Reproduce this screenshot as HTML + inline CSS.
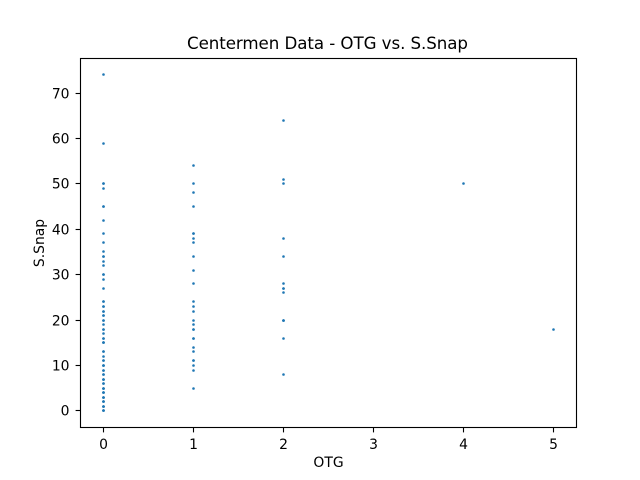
<!DOCTYPE html>
<html>
<head>
<meta charset="utf-8">
<title>Centermen Data - OTG vs. S.Snap</title>
<style>
html,body{margin:0;padding:0;background:#fff;width:640px;height:480px;overflow:hidden}
svg{display:block}
text{font-family:"DejaVu Sans","Liberation Sans",sans-serif;fill:#000}
</style>
</head>
<body>
<svg id="chart" xmlns="http://www.w3.org/2000/svg" width="640" height="480" viewBox="0 0 640 480">
  <rect x="0" y="0" width="640" height="480" fill="#fff"/>
  <text x="187" y="49" font-size="16.67" textLength="281" lengthAdjust="spacing">Centermen Data - OTG vs. S.Snap</text>
  <g id="points"></g>
  <g id="ticks"></g>
  <rect x="80.5" y="58.5" width="496" height="369" fill="none" stroke="#000" stroke-width="1.11"/>
  <text x="328.5" y="467" font-size="13.89" text-anchor="middle">OTG</text>
  <text transform="translate(44 243) rotate(-90)" font-size="13.89" text-anchor="middle">S.Snap</text>
</svg>
<script>
const otgGroups = [0, 1, 2, 4, 5];
const snapAtOtg0 = [74, 59, 50, 50, 49, 45, 45, 42, 39, 37, 35, 34, 34, 33, 32, 30, 30, 29, 27, 24, 24, 23, 23, 22, 22, 21, 21, 20, 20, 19, 18, 18, 17, 16, 16, 15, 15, 15, 13, 13, 12, 11, 11, 10, 10, 10, 9, 9, 8, 8, 7, 7, 7, 6, 6, 5, 5, 5, 4, 4, 4, 3, 3, 3, 2, 2, 2, 1, 1, 1, 0, 0, 0];
const snapAtOtg1 = [54, 50, 48, 45, 39, 39, 38, 37, 34, 31, 28, 24, 23, 22, 20, 19, 18, 18, 16, 16, 14, 13, 11, 11, 10, 9, 5];
const snapAtOtg2 = [64, 51, 50, 38, 34, 28, 27, 27, 26, 20, 20, 20, 16, 8];
const snapAtOtg4 = [50];
const snapAtOtg5 = [18];
const snapSeries = [snapAtOtg0, snapAtOtg1, snapAtOtg2, snapAtOtg4, snapAtOtg5];
const xTickLabels = [0, 1, 2, 3, 4, 5];
const yTickLabels = [0, 10, 20, 30, 40, 50, 60, 70];

const NS = 'http://www.w3.org/2000/svg';
const xMin = -0.25, xMax = 5.25, yMin = -3.7, yMax = 77.7;
const plotLeft = 80, plotRight = 576, plotTop = 57.6, plotBottom = 427.2;
function xScale(v) { return plotLeft + (v - xMin) / (xMax - xMin) * (plotRight - plotLeft); }
function yScale(v) { return plotBottom - (v - yMin) / (yMax - yMin) * (plotBottom - plotTop); }
function snapPixel(p) { return Math.round(p) + 0.5; }

const pointsLayer = document.getElementById('points');
otgGroups.forEach(function (otg, g) {
  snapSeries[g].forEach(function (snap) {
    const dot = document.createElementNS(NS, 'circle');
    
    
    dot.setAttribute('cx', snapPixel(xScale(otg)));
    dot.setAttribute('cy', snapPixel(yScale(snap)));
    dot.setAttribute('r', 1.3);
    dot.setAttribute('fill', '#1f77b4');
    pointsLayer.appendChild(dot);
  });
});

const ticksLayer = document.getElementById('ticks');
xTickLabels.forEach(function (v) {
  const px = snapPixel(xScale(v));
  const tick = document.createElementNS(NS, 'line');
  
  
  tick.setAttribute('x1', px);
  tick.setAttribute('x2', px);
  tick.setAttribute('y1', 427.5);
  tick.setAttribute('y2', 432.4);
  tick.setAttribute('stroke', '#000');
  tick.setAttribute('stroke-width', 1.11);
  ticksLayer.appendChild(tick);
  const label = document.createElementNS(NS, 'text');
  
  
  label.setAttribute('x', px);
  label.setAttribute('y', 449);
  label.setAttribute('font-size', 13.89);
  label.setAttribute('text-anchor', 'middle');
  label.textContent = v;
  ticksLayer.appendChild(label);
});
yTickLabels.forEach(function (v) {
  const py = snapPixel(yScale(v));
  const tick = document.createElementNS(NS, 'line');
  
  
  tick.setAttribute('x1', 75.6);
  tick.setAttribute('x2', 80.5);
  tick.setAttribute('y1', py);
  tick.setAttribute('y2', py);
  tick.setAttribute('stroke', '#000');
  tick.setAttribute('stroke-width', 1.11);
  ticksLayer.appendChild(tick);
  const label = document.createElementNS(NS, 'text');
  
  
  label.setAttribute('x', 69.5);
  label.setAttribute('y', py + 5);
  label.setAttribute('font-size', 13.89);
  label.setAttribute('text-anchor', 'end');
  label.textContent = v;
  ticksLayer.appendChild(label);
});
</script>
</body>
</html>
